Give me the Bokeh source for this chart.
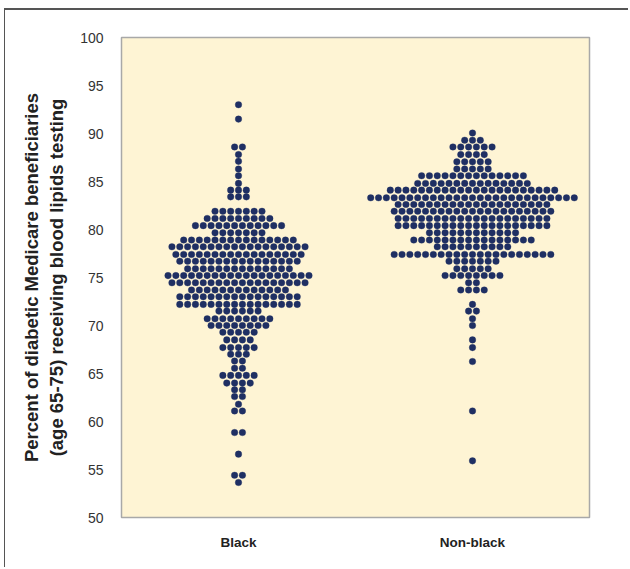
from bokeh.plotting import figure
from bokeh.models import Range1d, FixedTicker, ColumnDataSource
from bokeh.embed import file_html
from bokeh.resources import INLINE

# ---- data (binned percentages and number of areas per bin) ----
categories = ["Black", "Non-black"]
black_y = [93.0, 91.5, 88.6, 87.8, 87.1, 86.3, 85.6, 84.8, 84.1, 83.4,
           81.9, 81.15, 80.4, 79.65, 78.9, 78.2, 77.4, 76.7, 75.9, 75.2,
           74.45, 73.7, 73.0, 72.2, 71.5, 70.7, 70.0, 69.3, 68.5, 67.7,
           67.0, 66.3, 65.55, 64.8, 64.0, 63.3, 62.6, 61.8, 61.1, 58.85,
           56.6, 54.4, 53.65]
black_n = [1, 1, 2, 1, 1, 1, 1, 1, 3, 3,
           7, 9, 12, 7, 15, 18, 17, 16, 14, 19,
           18, 13, 16, 16, 6, 9, 8, 5, 4, 5,
           3, 2, 2, 5, 4, 2, 2, 1, 2, 2,
           1, 2, 1]
nonblack_y = [90.05, 89.3, 88.6, 87.8, 87.05, 86.3, 85.6, 84.8, 84.1, 83.3,
              82.6, 81.9, 81.15, 80.4, 79.65, 78.9, 78.2, 77.4, 76.7, 75.9,
              75.2, 74.45, 73.7, 72.2, 71.5, 70.7, 70.0, 68.5, 67.7, 66.25,
              61.1, 55.9]
nonblack_n = [1, 3, 6, 4, 5, 5, 14, 15, 22, 27,
              20, 21, 20, 20, 12, 16, 10, 21, 7, 5,
              8, 2, 4, 1, 2, 1, 1, 1, 1, 1,
              1, 1]
y_ticks = [50, 55, 60, 65, 70, 75, 80, 85, 90, 95, 100]

# ---- styling ----
FRAME_W, FRAME_H = 468, 480
STEP = 7.83 / (FRAME_W / 2.0)   # horizontal dot spacing in data units
DOT = "#1f2f63"


def swarm(center, ys, ns):
    xs, yy = [], []
    for y, n in zip(ys, ns):
        for i in range(n):
            xs.append(center + (i - (n - 1) / 2.0) * STEP)
            yy.append(y)
    return xs, yy


p = figure(width=624, height=559, output_backend="svg", toolbar_location=None,
           x_range=Range1d(0, 2), y_range=Range1d(50, 100),
           min_border_left=116, min_border_right=40,
           min_border_top=27, min_border_bottom=52)
p.styles = {"margin-left": "4px", "margin-top": "8px",
            "border-top": "2px solid #555555", "border-left": "1px solid #555555"}

p.background_fill_color = "#fef4d4"
p.border_fill_color = "white"
p.outline_line_color = "#a8a8a8"
p.outline_line_width = 1.5
p.grid.visible = False

for k, (ys, ns) in enumerate([(black_y, black_n), (nonblack_y, nonblack_n)]):
    xs, yy = swarm(0.5 + k, ys, ns)
    src = ColumnDataSource(dict(x=xs, y=yy))
    p.scatter("x", "y", source=src, size=6.6, fill_color=DOT, line_color=DOT,
              line_width=0.3)

# y axis
p.yaxis.ticker = FixedTicker(ticks=y_ticks)
p.yaxis.axis_line_color = None
p.yaxis.major_tick_line_color = None
p.yaxis.minor_tick_line_color = None
p.yaxis.major_tick_out = 0
p.yaxis.major_tick_in = 0
p.yaxis.major_label_standoff = 18
p.yaxis.major_label_text_font = "Liberation Sans"
p.yaxis.major_label_text_font_size = "14px"
p.yaxis.major_label_text_color = "#333333"
p.yaxis.axis_label = ("Percent of diabetic Medicare beneficiaries\n"
                      "(age 65-75) receiving blood lipids testing")
p.yaxis.axis_label_text_font = "Liberation Sans"
p.yaxis.axis_label_text_font_style = "bold"
p.yaxis.axis_label_text_font_size = "18.5px"
p.yaxis.axis_label_text_color = "#222222"
p.yaxis.axis_label_standoff = 10

# x axis
p.xaxis.ticker = FixedTicker(ticks=[0.5, 1.5])
p.xaxis.major_label_overrides = {0.5: categories[0], 1.5: categories[1]}
p.xaxis.axis_line_color = None
p.xaxis.major_tick_line_color = None
p.xaxis.minor_tick_line_color = None
p.xaxis.major_tick_out = 0
p.xaxis.major_tick_in = 0
p.xaxis.major_label_standoff = 17
p.xaxis.major_label_text_font = "Liberation Sans"
p.xaxis.major_label_text_font_style = "bold"
p.xaxis.major_label_text_font_size = "13.5px"
p.xaxis.major_label_text_color = "#222222"

open("out.html", "w").write(file_html(p, INLINE))
